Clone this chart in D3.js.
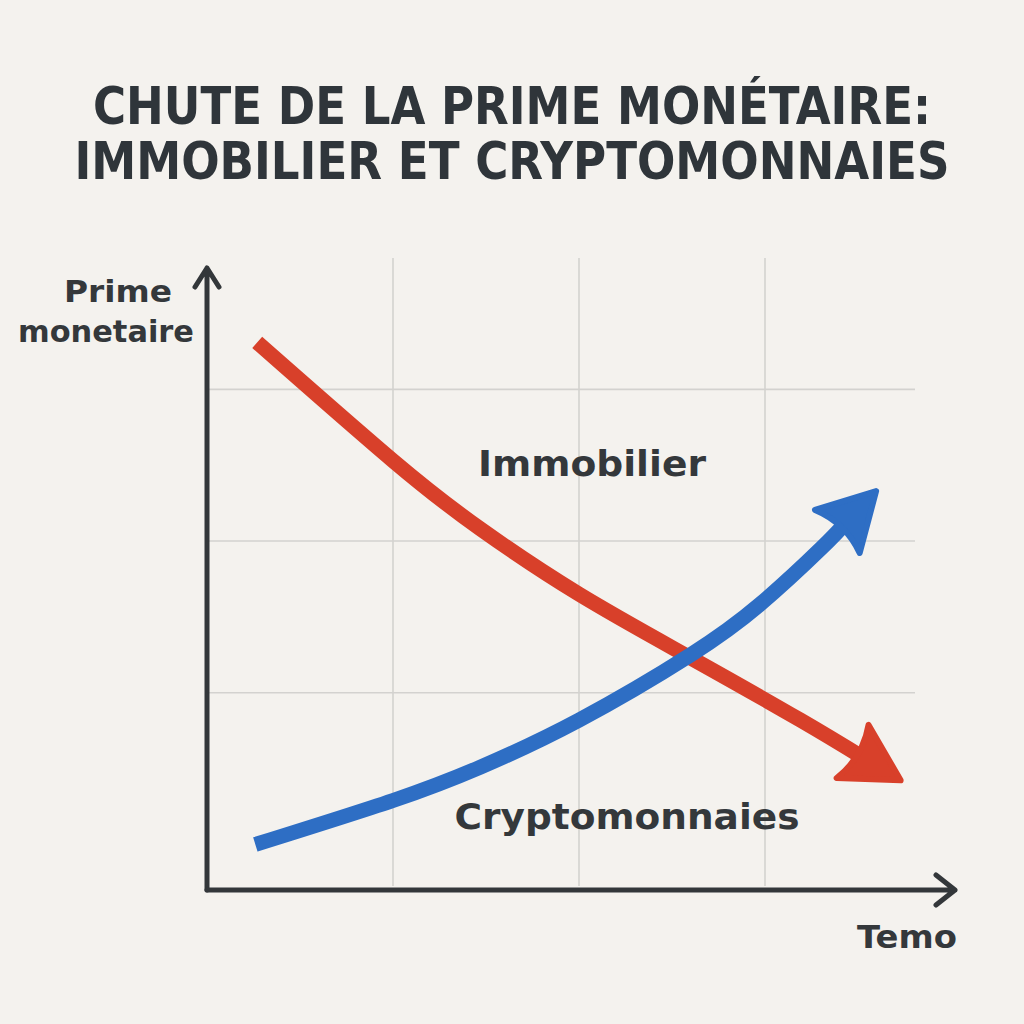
<!DOCTYPE html>
<html><head><meta charset="utf-8">
<script src="https://cdn.jsdelivr.net/npm/d3@7"></script>
<style>html,body{margin:0;padding:0;background:#f4f2ee;}svg{display:block;}</style>
</head><body>
<script>
const titleLines = ["CHUTE DE LA PRIME MONÉTAIRE:", "IMMOBILIER ET CRYPTOMONNAIES"];
const yLabelLines = ["Prime", "monetaire"];
const xLabel = "Temo";
const gridX = [1, 2, 3];
const gridY = [1, 2, 3];
const immoT = [0.27, 1.0, 1.47, 2.0, 2.6, 3.19, 3.72];
const immoV = [3.31, 2.53, 2.08, 1.65, 1.23, 0.82, 0.43];
const cryptoT = [0.26, 1.0, 1.47, 2.0, 2.6, 2.97, 3.3, 3.59];
const cryptoV = [0.0, 0.29, 0.51, 0.82, 1.25, 1.58, 1.95, 2.32];

const W = 1024, H = 1024;
const svg = d3.select("body").append("svg").attr("width", W).attr("height", H);
svg.append("rect").attr("width", W).attr("height", H).attr("fill", "#f4f2ee");

const x = d3.scaleLinear().domain([0, 4]).range([207, 951]);
const y = d3.scaleLinear().domain([-0.3, 3.8]).range([890, 268]);

// title
svg.selectAll("text.title").data(titleLines).enter().append("text")
  .attr("x", 512).attr("y", (d, i) => 124 + i * 55)
  .attr("text-anchor", "middle")
  .attr("font-family", "DejaVu Sans Condensed, DejaVu Sans, sans-serif")
  .attr("font-weight", "bold").attr("font-size", 52)
  .attr("fill", "#2f353a")
  .attr("textLength", (d, i) => i === 0 ? 838 : 875)
  .attr("lengthAdjust", "spacingAndGlyphs")
  .text(d => d);

// grid
const g = svg.append("g");
g.selectAll("line.gx").data(gridX).enter().append("line")
  .attr("x1", d => x(d)).attr("x2", d => x(d))
  .attr("y1", 258).attr("y2", 886)
  .attr("stroke", "#d3d2cf").attr("stroke-width", 1.6);
g.selectAll("line.gy").data(gridY).enter().append("line")
  .attr("x1", 207).attr("x2", 915)
  .attr("y1", d => y(d)).attr("y2", d => y(d))
  .attr("stroke", "#d3d2cf").attr("stroke-width", 1.6);

// axes
const axisColor = "#33373a";
svg.append("path")
  .attr("d", `M${x(0)},${y(-0.3)} L${x(0)},268 M195,287 L${x(0)},268 L219,287`)
  .attr("fill", "none").attr("stroke", axisColor).attr("stroke-width", 5)
  .attr("stroke-linecap", "round").attr("stroke-linejoin", "round");
svg.append("path")
  .attr("d", `M${x(0)},${y(-0.3)} L955,${y(-0.3)} M936,875 L955,890 L936,905`)
  .attr("fill", "none").attr("stroke", axisColor).attr("stroke-width", 5)
  .attr("stroke-linecap", "round").attr("stroke-linejoin", "round");

// axis labels
svg.selectAll("text.yl").data(yLabelLines).enter().append("text")
  .attr("x", (d, i) => i === 0 ? 118 : 106).attr("y", (d, i) => 302 + i * 40)
  .attr("text-anchor", "middle")
  .attr("font-family", "DejaVu Sans, sans-serif").attr("font-weight", "bold")
  .attr("font-size", 30).attr("fill", "#34383b")
  .attr("textLength", (d, i) => i === 0 ? 108 : 176)
  .attr("lengthAdjust", "spacingAndGlyphs")
  .text(d => d);
svg.append("text").attr("x", 957).attr("y", 948).attr("text-anchor", "end")
  .attr("font-family", "DejaVu Sans, sans-serif").attr("font-weight", "bold")
  .attr("font-size", 32).attr("fill", "#34383b")
  .attr("textLength", 100).attr("lengthAdjust", "spacingAndGlyphs")
  .text(xLabel);

// markers
const defs = svg.append("defs");
function marker(id, color) {
  defs.append("marker").attr("id", id)
    .attr("markerUnits", "userSpaceOnUse")
    .attr("viewBox", "-65 -40 75 80").attr("refX", 0).attr("refY", 0)
    .attr("markerWidth", 75).attr("markerHeight", 80)
    .attr("orient", "auto")
    .append("path")
    .attr("d", "M2,0 L-54,-31 Q-42,0 -54,31 Z")
    .attr("fill", color).attr("stroke", color).attr("stroke-width", 6)
    .attr("stroke-linejoin", "round");
}
marker("arrRed", "#d8402a");
marker("arrBlue", "#2e6ec4");

const line = d3.line().x(d => x(d[0])).y(d => y(d[1])).curve(d3.curveNatural);

function series(T, V, color, mid) {
  const pts = T.map((t, i) => [t, V[i]]);
  const n = pts.length;
  const a = pts[n - 2], b = pts[n - 1];
  const px = x(b[0]) - x(a[0]), py = y(b[1]) - y(a[1]);
  const L = Math.hypot(px, py);
  const endX = x.invert(x(b[0]) - px / L * 38), endY = y.invert(y(b[1]) - py / L * 38);
  const shortPts = pts.slice(0, n - 1).concat([[endX, endY]]);
  svg.append("path").attr("d", line(shortPts))
    .attr("fill", "none").attr("stroke", color).attr("stroke-width", 15)
    .attr("stroke-linecap", "butt").attr("stroke-linejoin", "round");
  svg.append("path")
    .attr("d", `M${x(endX)},${y(endY)} L${x(b[0])},${y(b[1])}`)
    .attr("stroke", "none").attr("fill", "none")
    .attr("marker-end", `url(#${mid})`);
}
series(immoT, immoV, "#d8402a", "arrRed");
series(cryptoT, cryptoV, "#2e6ec4", "arrBlue");

// series labels
svg.append("text").attr("x", 592).attr("y", 476).attr("text-anchor", "middle")
  .attr("font-family", "DejaVu Sans, sans-serif").attr("font-weight", "bold")
  .attr("font-size", 36).attr("fill", "#34383b")
  .attr("textLength", 228).attr("lengthAdjust", "spacingAndGlyphs")
  .text("Immobilier");
svg.append("text").attr("x", 627).attr("y", 829).attr("text-anchor", "middle")
  .attr("font-family", "DejaVu Sans, sans-serif").attr("font-weight", "bold")
  .attr("font-size", 36).attr("fill", "#34383b")
  .attr("textLength", 345).attr("lengthAdjust", "spacingAndGlyphs")
  .text("Cryptomonnaies");
</script>
</body></html>
